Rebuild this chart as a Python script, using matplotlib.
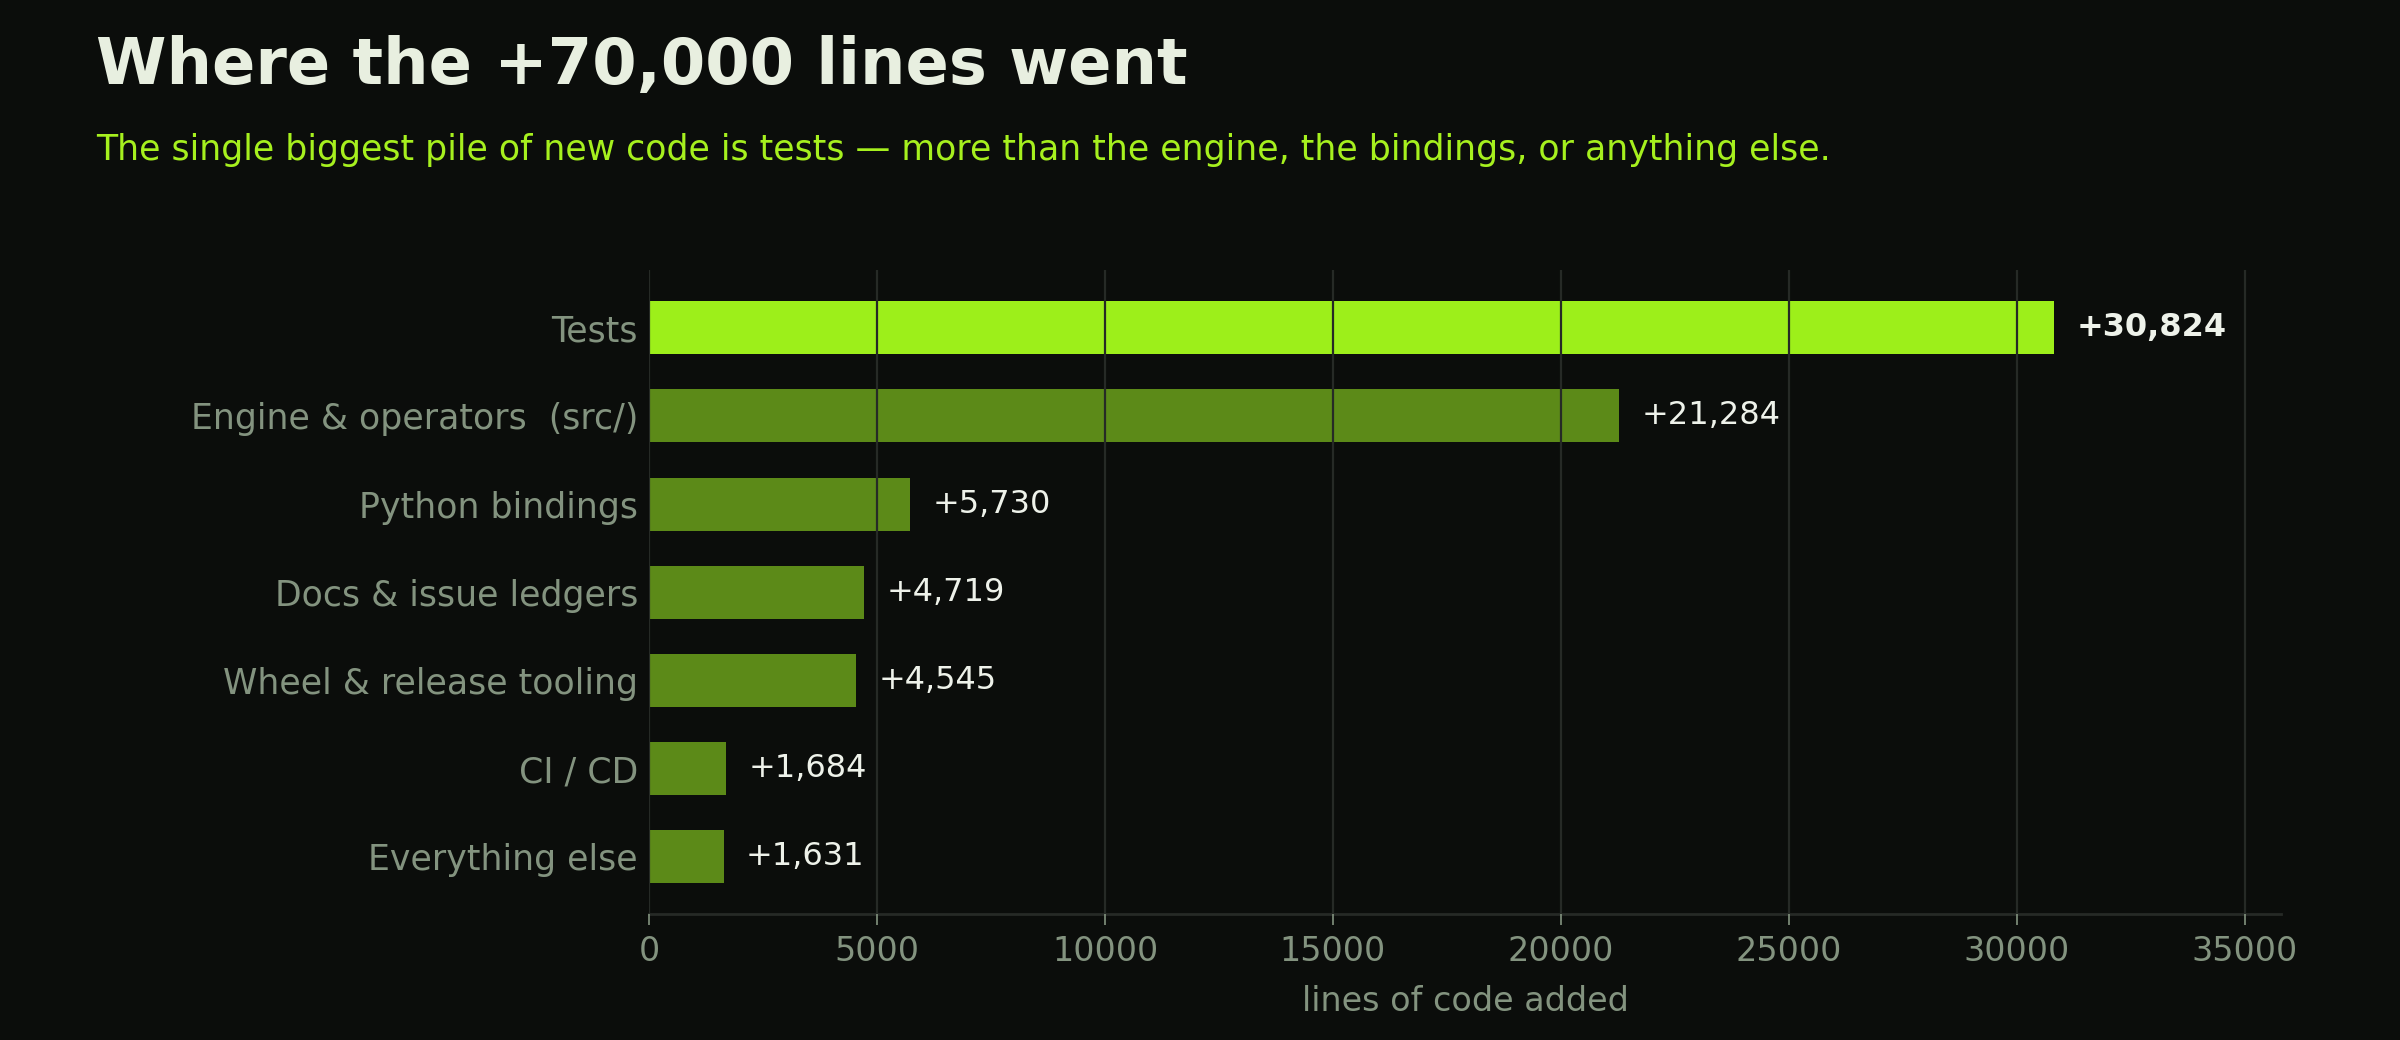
import matplotlib
matplotlib.use("Agg")
import matplotlib.pyplot as plt

# data
categories = ["Tests", "Engine & operators  (src/)", "Python bindings",
              "Docs & issue ledgers", "Wheel & release tooling", "CI / CD", "Everything else"]
lines_added = [30824, 21284, 5730, 4719, 4545, 1684, 1631]

BG = "#0b0d0b"
LIME = "#9def1a"
GREEN = "#5c8a18"
MUTED = "#83937f"
GRID = "#262a26"

plt.rcParams["font.family"] = "DejaVu Sans"

fig = plt.figure(figsize=(12, 5.2), dpi=200, facecolor=BG)
ax = fig.add_axes([0.2705, 0.121, 0.68, 0.619])
ax.set_facecolor(BG)

# top row first
y = list(range(len(categories)))[::-1]
colors = [LIME] + [GREEN] * (len(categories) - 1)
ax.barh(y, lines_added, height=0.6, color=colors, zorder=1)

for yi, v, i in zip(y, lines_added, range(len(lines_added))):
    ax.annotate(f"+{v:,}", (v, yi), xytext=(8, 0), textcoords="offset points",
                va="center", ha="left", fontsize=11.5, color="#eef2ea",
                fontweight="bold" if i == 0 else "normal")

ax.set_yticks(y)
ax.set_yticklabels(categories)
ax.set_xlim(0, 35800)
ax.set_ylim(-0.65, 6.65)
ax.set_xticks(range(0, 35001, 5000))

# grid sits over the bars like in the reference
ax.grid(axis="x", color=GRID, linewidth=0.8, zorder=2)
ax.set_axisbelow(False)

ax.tick_params(axis="y", length=0, labelsize=12.5, labelcolor=MUTED, pad=4)
ax.tick_params(axis="x", color=MUTED, labelsize=12, labelcolor=MUTED, length=4, width=0.6)
for s in ["top", "right", "left"]:
    ax.spines[s].set_visible(False)
ax.spines["bottom"].set_color(GRID)
ax.spines["bottom"].set_linewidth(1.0)

ax.set_xlabel("lines of code added", color=MUTED, fontsize=12, labelpad=6)

fig.text(0.04, 0.937, "Where the +70,000 lines went", fontsize=23, fontweight="bold",
         color="#e8efe0", va="center", ha="left")
fig.text(0.04, 0.856, "The single biggest pile of new code is tests \u2014 more than the engine, "
         "the bindings, or anything else.", fontsize=12.5, color="#a6f01e", va="center", ha="left")

fig.savefig("out.png", dpi=200, facecolor=BG)
